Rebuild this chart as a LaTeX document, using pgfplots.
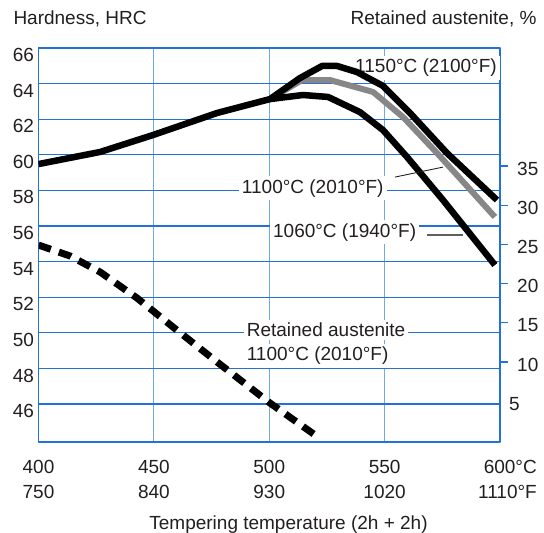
\documentclass[border=0pt]{standalone}
\usepackage{fontspec}
\setmainfont{Liberation Sans}
\usepackage{pgfplots}
\pgfplotsset{compat=1.18}

\definecolor{gridblue}{RGB}{35,112,214}
\definecolor{gridlight}{RGB}{115,168,228}
\definecolor{txt}{RGB}{35,31,32}
\definecolor{curvegray}{RGB}{135,135,135}
\definecolor{leadgray}{RGB}{95,95,95}

\newcommand{\chartfont}{\fontsize{19}{24.9}\selectfont}

\begin{document}
\begin{tikzpicture}[font=\chartfont, text=txt]
\path[use as bounding box] (0pt,0pt) rectangle (544pt,533pt);

% left axis: hardness
\begin{axis}[
  at={(38.5pt,91pt)}, anchor=south west,
  scale only axis, width=461.5pt, height=394pt,
  xmin=400, xmax=600, ymin=43.87, ymax=66,
  xtick={400,450,500,550,600},
  xticklabels={{400\\750},{450\\840},{500\\930},{550\\1020},{}},
  ytick={46,48,...,66},
  xmajorgrids, ymajorgrids,
  x grid style={gridlight, line width=1pt},
  y grid style={gridblue, line width=1.2pt},
  axis line style={gridblue, line width=1.3pt},
  major tick length=0pt,
  tick label style={font=\chartfont, text=txt},
  /pgf/number format/assume math mode=true,
  xticklabel style={align=center, anchor=north, inner sep=0pt, yshift=-18pt},
  yticklabel style={anchor=east, inner sep=0pt, xshift=-4.3pt, yshift=-7pt},
  line join=round,
]
% labels first so the curves lie on top of their white boxes
\node[anchor=base east, fill=white, inner sep=3pt] at (axis cs:600,64.60) {1150°C (2100°F)};
\node[anchor=base west, fill=white, inner sep=3pt] at (axis cs:486.8,57.85) {1100°C (2010°F)};
\node[anchor=base west, fill=white, inner sep=3pt] at (axis cs:500.3,55.37) {1060°C (1940°F)};
\node[anchor=base west, fill=white, inner sep=3pt] at (axis cs:488.9,49.78) {Retained austenite};
\node[anchor=base west, fill=white, inner sep=3pt] at (axis cs:488.9,48.42) {1100°C (2010°F)};

% 1100 C
\addplot[curvegray, line width=6pt, mark=none] coordinates {
  (500.3,63.13) (514.2,64.20) (526.3,64.20) (545.0,63.53)
  (558.0,62.12) (572.7,60.10) (597.8,56.51)
};
% 1150 C
\addplot[black, line width=6.5pt, mark=none] coordinates {
  (400.0,59.48) (426.7,60.16) (449.6,61.11) (477.4,62.35)
  (500.3,63.13) (513.3,64.31) (522.9,64.99) (529.4,64.99)
  (538.0,64.65) (549.3,63.87) (561.0,62.35) (577.0,60.10)
  (598.7,57.46)
};
% 1060 C
\addplot[black, line width=6.5pt, mark=none] coordinates {
  (500.3,63.13) (514.6,63.36) (525.5,63.25) (539.3,62.40)
  (549.3,61.39) (559.7,59.88) (575.3,57.46) (597.8,53.81)
};

\draw[txt, line width=0.9pt] (axis cs:554.5,58.75) -- (axis cs:575.3,59.31);
\draw[leadgray, line width=1.8pt] (axis cs:568.2,55.49) -- (axis cs:583.9,55.49);
\end{axis}

% right axis: retained austenite
\begin{axis}[
  at={(38.5pt,91pt)}, anchor=south west,
  scale only axis, width=461.5pt, height=394pt,
  xmin=400, xmax=600, ymin=-0.2, ymax=50.05,
  hide x axis,
  axis y line*=right,
  y axis line style={draw=none},
  ytick={10,15,...,35},
  extra y ticks={5},
  extra y tick style={major tick length=0pt},
  major tick length=8pt, tick align=outside,
  tick style={gridblue, line width=1.3pt},
  tick label style={font=\chartfont, text=txt},
  /pgf/number format/assume math mode=true,
  yticklabel style={anchor=west, inner sep=0pt, xshift=9pt, yshift=-2.5pt},
]
\addplot[black, line width=7pt, dash pattern=on 13pt off 8.5pt, mark=none] coordinates {
  (400.0,24.92) (413.7,23.52) (426.7,21.48) (442.7,18.16)
  (458.3,14.46) (477.4,10.00) (500.3,4.77) (521.1,0.43)
};
\end{axis}

\node[anchor=base west, inner sep=0pt] at (13.3pt,508pt) {Hardness, HRC};
\node[anchor=base east, inner sep=0pt] at (536.7pt,508pt) {Retained austenite, \%};
\node[anchor=north east, align=right, inner sep=0pt] at (537pt,73pt) {600°C\\1110°F};
\node[anchor=base, inner sep=0pt] at (288.5pt,3.3pt) {Tempering temperature (2h + 2h)};
\end{tikzpicture}
\end{document}
